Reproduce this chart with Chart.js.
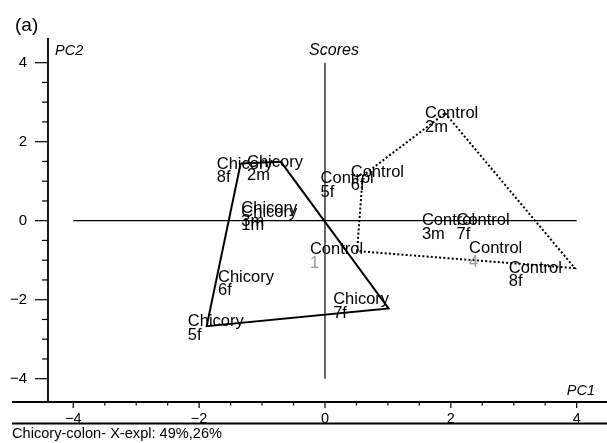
<!DOCTYPE html>
<html>
<head>
<meta charset="utf-8">
<script src="https://cdn.jsdelivr.net/npm/chart.js@4.4.1/dist/chart.umd.min.js"></script>
<style>
  html, body { margin: 0; padding: 0; background: #fff; }
  #wrap { width: 607px; height: 443px; position: relative; }
</style>
</head>
<body>
<div id="wrap"><canvas id="c" width="607" height="443"></canvas></div>
<script>
// ---- data ----
// Chicory hull vertices (8f, 2m, 7f, 5f, back to 8f)
const chicoryHullX = [-1.34, -0.70, 1.01, -1.88, -1.34];
const chicoryHullY = [1.45, 1.49, -2.22, -2.67, 1.45];
// Control hull vertices (2m, 8f, 1, 6f, back to 2m)
const controlHullX = [1.91, 3.97, 0.51, 0.60, 1.91];
const controlHullY = [2.72, -1.20, -0.77, 1.14, 2.72];

// sample labels (anchor = left of first text line, on its baseline)
const chicoryNames = ['8f', '2m', '3m', '1m', '6f', '5f', '7f'];
const chicoryLabelX = [-1.72, -1.24, -1.33, -1.33, -1.70, -2.18, 0.13];
const chicoryLabelY = [1.31, 1.37, 0.20, 0.10, -1.54, -2.67, -2.11];
const controlNames = ['5f', '6f', '2m', '1', '3m', '7f', '4', '8f'];
const controlLabelX = [-0.07, 0.41, 1.59, -0.24, 1.54, 2.09, 2.29, 2.92];
const controlLabelY = [0.95, 1.11, 2.59, -0.85, -0.11, -0.11, -0.83, -1.32];

// origin cross lines
const crossX = [-4, 4];
const crossY = [-4, 4];

// axis ticks
const xTickLabels = [-4, -2, 0, 2, 4];
const yTickLabels = [-4, -2, 0, 2, 4];
const xMinorTicks = [-4, -3.5, -3, -2.5, -2, -1.5, -1, -0.5, 0, 0.5, 1, 1.5, 2, 2.5, 3, 3.5, 4];
const yMinorTicks = [-4, -3.5, -3, -2.5, -2, -1.5, -1, -0.5, 0, 0.5, 1, 1.5, 2, 2.5, 3, 3.5, 4];

const axisTitleX = 'PC1';
const axisTitleY = 'PC2';
const plotTitle = 'Scores';
const panelTag = '(a)';
const caption = 'Chicory-colon- X-expl: 49%,26%';

// ---- build datasets ----
function pts(xs, ys) { return xs.map((x, i) => ({ x: x, y: ys[i] })); }
const fmt = v => (v < 0 ? '\u2212' + Math.abs(v) : String(v));

const decor = {
  id: 'decor',
  beforeDatasetsDraw(chart) {
    const ctx = chart.ctx, xs = chart.scales.x, ys = chart.scales.y, a = chart.chartArea;
    ctx.save();
    ctx.strokeStyle = '#000';
    ctx.fillStyle = '#000';
    // y axis line
    ctx.lineWidth = 1.8;
    ctx.beginPath(); ctx.moveTo(a.left, a.top); ctx.lineTo(a.left, a.bottom); ctx.stroke();
    // x axis lines (axis + lower rule)
    ctx.beginPath(); ctx.moveTo(12, a.bottom); ctx.lineTo(a.right, a.bottom); ctx.stroke();
    ctx.beginPath(); ctx.moveTo(12, a.bottom + 21.5); ctx.lineTo(a.right, a.bottom + 21.5); ctx.stroke();
    // y ticks
    ctx.lineWidth = 1.2;
    yMinorTicks.forEach(v => {
      const py = ys.getPixelForValue(v);
      const len = yTickLabels.includes(v) ? 13 : 6;
      ctx.beginPath(); ctx.moveTo(a.left - len, py); ctx.lineTo(a.left, py); ctx.stroke();
    });
    // x ticks
    xMinorTicks.forEach(v => {
      const px = xs.getPixelForValue(v);
      const len = xTickLabels.includes(v) ? 6 : 3.5;
      ctx.beginPath(); ctx.moveTo(px, a.bottom); ctx.lineTo(px, a.bottom + len); ctx.stroke();
    });
    // tick labels
    ctx.font = '15px "Liberation Sans", Arial, sans-serif';
    ctx.textAlign = 'right'; ctx.textBaseline = 'middle';
    yTickLabels.forEach(v => ctx.fillText(fmt(v), 27, ys.getPixelForValue(v)));
    ctx.font = '14.5px "Liberation Sans", Arial, sans-serif';
    ctx.textAlign = 'center'; ctx.textBaseline = 'alphabetic';
    xTickLabels.forEach(v => ctx.fillText(fmt(v), xs.getPixelForValue(v), a.bottom + 20.5));
    // axis titles
    ctx.font = 'italic 14.5px "Liberation Sans", Arial, sans-serif';
    ctx.textAlign = 'left';
    ctx.fillText(axisTitleY, 55, 55);
    ctx.textAlign = 'right';
    ctx.fillText(axisTitleX, 595, 395);
    ctx.textAlign = 'center';
    ctx.font = 'italic 16px "Liberation Sans", Arial, sans-serif';
    ctx.fillText(plotTitle, 334, 55);
    // panel tag and caption
    ctx.textAlign = 'left';
    ctx.font = '19px "Liberation Sans", Arial, sans-serif';
    ctx.fillText(panelTag, 15, 31);
    ctx.font = '14.6px "Liberation Sans", Arial, sans-serif';
    ctx.fillText(caption, 12, 438);
    ctx.restore();
  },
  afterDatasetsDraw(chart) {
    const ctx = chart.ctx, xs = chart.scales.x, ys = chart.scales.y;
    ctx.save();
    ctx.font = '16.5px "Liberation Sans", Arial, sans-serif';
    ctx.textAlign = 'left'; ctx.textBaseline = 'alphabetic';
    const draw = (group, names, lx, ly) => {
      names.forEach((n, i) => {
        const px = xs.getPixelForValue(lx[i]);
        const py = ys.getPixelForValue(ly[i]);
        ctx.fillStyle = '#000';
        ctx.fillText(group, px, py);
        ctx.fillStyle = /^\d+$/.test(n) ? '#999' : '#000';
        ctx.fillText(n, px, py + 13.5);
      });
    };
    draw('Chicory', chicoryNames, chicoryLabelX, chicoryLabelY);
    draw('Control', controlNames, controlLabelX, controlLabelY);
    ctx.restore();
  }
};

new Chart(document.getElementById('c'), {
  type: 'scatter',
  data: {
    datasets: [
      { label: 'h', data: pts(crossX, [0, 0]), showLine: true, borderColor: '#000', borderWidth: 1.2, pointRadius: 0 },
      { label: 'v', data: pts([0, 0], crossY), showLine: true, borderColor: '#000', borderWidth: 1.2, pointRadius: 0 },
      { label: 'Chicory', data: pts(chicoryHullX, chicoryHullY), showLine: true, borderColor: '#000', borderWidth: 2, pointRadius: 0, tension: 0 },
      { label: 'Control', data: pts(controlHullX, controlHullY), showLine: true, borderColor: '#000', borderWidth: 2, borderDash: [2, 2.2], pointRadius: 0, tension: 0 }
    ]
  },
  options: {
    responsive: false,
    devicePixelRatio: 1,
    animation: false,
    layout: { padding: { left: 48, right: 0, top: 38, bottom: 41 } },
    scales: {
      x: { type: 'linear', min: -4.402, max: 4.482, display: false },
      y: { type: 'linear', min: -4.59, max: 4.625, display: false }
    },
    plugins: { legend: { display: false }, tooltip: { enabled: false } }
  },
  plugins: [decor]
});
</script>
</body>
</html>
